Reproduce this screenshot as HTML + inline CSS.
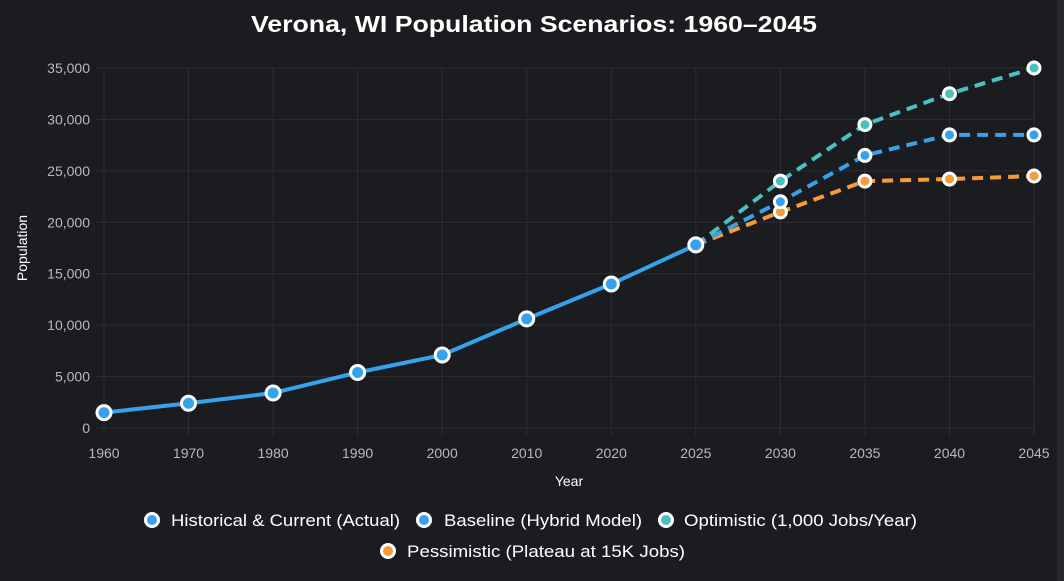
<!DOCTYPE html>
<html><head><meta charset="utf-8"><style>
html,body{margin:0;padding:0;background:#1b1c20;}
svg{display:block;font-family:"Liberation Sans",Arial,sans-serif;}
</style></head><body>
<svg width="1064" height="581" viewBox="0 0 1064 581">
<rect width="1064" height="581" fill="#1b1c20"/>
<rect x="1057" y="0" width="7" height="581" fill="#26272b"/>
<text x="251" y="32" fill="#fff" font-size="23" font-weight="bold" textLength="566" lengthAdjust="spacingAndGlyphs">Verona, WI Population Scenarios: 1960–2045</text>
<g stroke="#2c2d32" stroke-width="1">
<line x1="96" x2="1034" y1="428" y2="428"/><line x1="96" x2="1034" y1="376.6" y2="376.6"/><line x1="96" x2="1034" y1="325.1" y2="325.1"/><line x1="96" x2="1034" y1="273.7" y2="273.7"/><line x1="96" x2="1034" y1="222.3" y2="222.3"/><line x1="96" x2="1034" y1="170.9" y2="170.9"/><line x1="96" x2="1034" y1="119.4" y2="119.4"/><line x1="96" x2="1034" y1="68" y2="68"/>
<line x1="104" x2="104" y1="68" y2="436"/><line x1="188.5" x2="188.5" y1="68" y2="436"/><line x1="273.1" x2="273.1" y1="68" y2="436"/><line x1="357.6" x2="357.6" y1="68" y2="436"/><line x1="442.2" x2="442.2" y1="68" y2="436"/><line x1="526.7" x2="526.7" y1="68" y2="436"/><line x1="611.3" x2="611.3" y1="68" y2="436"/><line x1="695.8" x2="695.8" y1="68" y2="436"/><line x1="780.4" x2="780.4" y1="68" y2="436"/><line x1="864.9" x2="864.9" y1="68" y2="436"/><line x1="949.5" x2="949.5" y1="68" y2="436"/><line x1="1034" x2="1034" y1="68" y2="436"/>
</g>
<g fill="#b8b9bd" font-size="14" text-anchor="end">
<text x="90" y="433">0</text><text x="90" y="381.6">5,000</text><text x="90" y="330.1">10,000</text><text x="90" y="278.7">15,000</text><text x="90" y="227.3">20,000</text><text x="90" y="175.9">25,000</text><text x="90" y="124.4">30,000</text><text x="90" y="73">35,000</text>
</g>
<g fill="#b8b9bd" font-size="14" text-anchor="middle">
<text x="104" y="458">1960</text><text x="188.5" y="458">1970</text><text x="273.1" y="458">1980</text><text x="357.6" y="458">1990</text><text x="442.2" y="458">2000</text><text x="526.7" y="458">2010</text><text x="611.3" y="458">2020</text><text x="695.8" y="458">2025</text><text x="780.4" y="458">2030</text><text x="864.9" y="458">2035</text><text x="949.5" y="458">2040</text><text x="1034" y="458">2045</text>
</g>
<text x="569" y="486" fill="#fff" font-size="14" text-anchor="middle">Year</text>
<text transform="translate(27,248) rotate(-90)" fill="#fff" font-size="14" text-anchor="middle">Population</text>
<g fill="none" stroke-width="4" stroke-dasharray="11,7">
<polyline stroke="#f59b38" points="695.8,244.9 780.4,212 864.9,181.1 949.5,179.1 1034,176"/>
<polyline stroke="#36a2eb" points="695.8,244.9 780.4,201.7 864.9,155.4 949.5,134.9 1034,134.9"/>
<polyline stroke="#4bc0c0" points="695.8,244.9 780.4,181.1 864.9,124.6 949.5,93.7 1034,68"/>
</g>
<polyline fill="none" stroke="#36a2eb" stroke-width="4" points="104,412.6 188.5,403.3 273.1,393 357.6,372.5 442.2,355 526.7,318.9 611.3,284 695.8,244.9"/>
<g stroke="#fff" stroke-width="3">
<g fill="#f59b38"><circle cx="780.4" cy="212" r="6"/><circle cx="864.9" cy="181.1" r="6"/><circle cx="949.5" cy="179.1" r="6"/><circle cx="1034" cy="176" r="6"/></g>
<g fill="#36a2eb"><circle cx="780.4" cy="201.7" r="6"/><circle cx="864.9" cy="155.4" r="6"/><circle cx="949.5" cy="134.9" r="6"/><circle cx="1034" cy="134.9" r="6"/></g>
<g fill="#4bc0c0"><circle cx="780.4" cy="181.1" r="6"/><circle cx="864.9" cy="124.6" r="6"/><circle cx="949.5" cy="93.7" r="6"/><circle cx="1034" cy="68" r="6"/></g>
<g fill="#36a2eb"><circle cx="104" cy="412.6" r="7"/><circle cx="188.5" cy="403.3" r="7"/><circle cx="273.1" cy="393" r="7"/><circle cx="357.6" cy="372.5" r="7"/><circle cx="442.2" cy="355" r="7"/><circle cx="526.7" cy="318.9" r="7"/><circle cx="611.3" cy="284" r="7"/><circle cx="695.8" cy="244.9" r="7"/></g>
</g>
<g stroke="#fff" stroke-width="3">
<circle cx="152" cy="520" r="6.5" fill="#36a2eb"/>
<circle cx="424" cy="520" r="6.5" fill="#36a2eb"/>
<circle cx="666" cy="520" r="6.5" fill="#4bc0c0"/>
<circle cx="388" cy="551" r="6.5" fill="#f59b38"/>
</g>
<g fill="#fff" font-size="17">
<text x="171" y="526" textLength="229" lengthAdjust="spacingAndGlyphs">Historical &amp; Current (Actual)</text>
<text x="444" y="526" textLength="198" lengthAdjust="spacingAndGlyphs">Baseline (Hybrid Model)</text>
<text x="684" y="526" textLength="233" lengthAdjust="spacingAndGlyphs">Optimistic (1,000 Jobs/Year)</text>
<text x="407" y="557" textLength="278" lengthAdjust="spacingAndGlyphs">Pessimistic (Plateau at 15K Jobs)</text>
</g>
</svg>
</body></html>
